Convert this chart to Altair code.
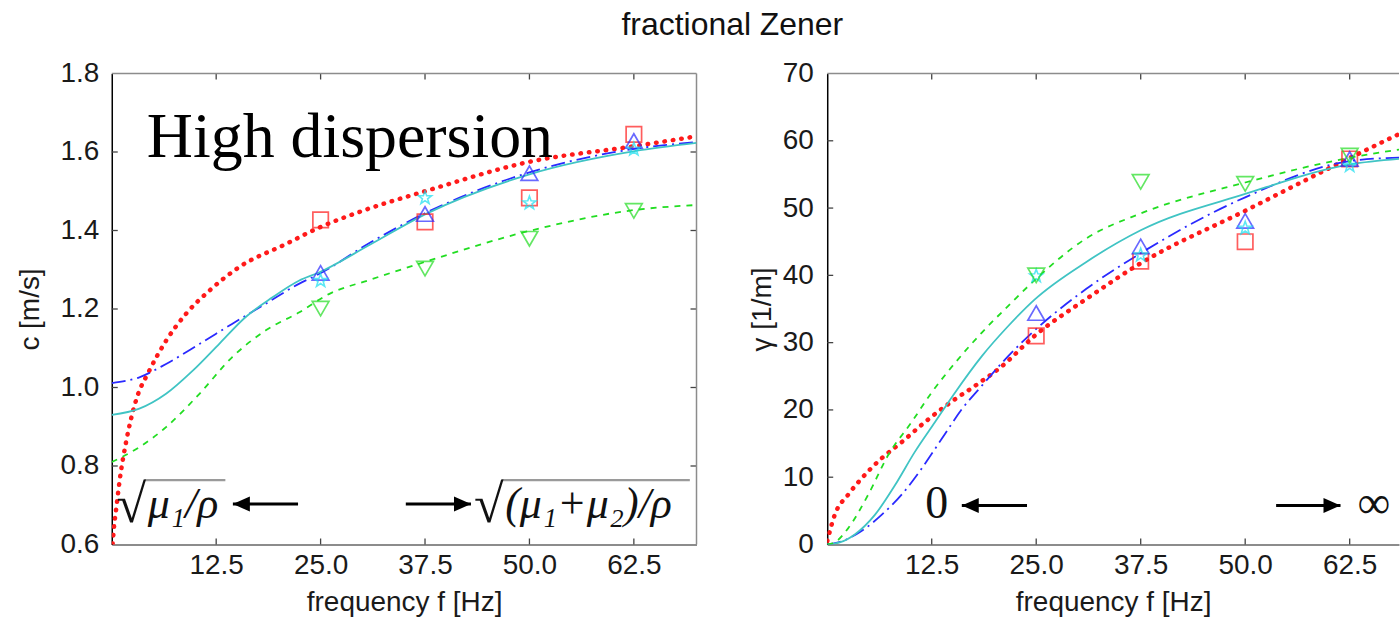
import altair as alt
import pandas as pd

# ---------------- data: left panel, phase velocity c [m/s] ----------------
MEAS_F = [25.0, 37.5, 50.0, 62.5]
L_SQ_RED = [1.427, 1.422, 1.483, 1.645]
L_TRI_BLUE = [1.292, 1.442, 1.546, 1.628]
L_STAR_CYAN = [1.272, 1.483, 1.470, 1.607]
L_TRI_GREEN = [1.201, 1.303, 1.379, 1.450]

L_RED_F = [0.0, 0.1, 0.25, 0.56, 0.95, 1.75, 2.9, 4.5, 6.5, 8.9, 11.7, 15.2, 20.8, 24.8, 30.0, 37.5, 50.0, 62.6, 70.0]
L_RED_C = [0.58, 0.60, 0.64, 0.696, 0.764, 0.865, 0.967, 1.043, 1.119, 1.188, 1.247, 1.306, 1.365, 1.407, 1.45, 1.50, 1.575, 1.615, 1.640]
L_CYAN_F = [0.0, 3.3, 6.5, 9.7, 12.9, 16.0, 19.2, 22.4, 24.8, 31.0, 37.5, 50.0, 62.6, 70.0]
L_CYAN_C = [0.930, 0.946, 0.984, 1.043, 1.112, 1.179, 1.229, 1.272, 1.293, 1.365, 1.441, 1.543, 1.602, 1.623]
L_BLUE_F = [0.0, 3.3, 6.5, 10.5, 14.4, 18.4, 22.4, 24.8, 31.0, 37.5, 50.0, 62.6, 70.0]
L_BLUE_C = [1.011, 1.026, 1.060, 1.111, 1.162, 1.213, 1.264, 1.289, 1.370, 1.444, 1.548, 1.608, 1.625]
L_GREEN_F = [0.0, 3.3, 6.5, 10.5, 14.4, 18.4, 22.4, 26.0, 31.0, 37.5, 50.0, 62.5, 70.0]
L_GREEN_C = [0.810, 0.848, 0.899, 0.984, 1.077, 1.145, 1.191, 1.238, 1.275, 1.320, 1.399, 1.452, 1.465]

# ---------------- data: right panel, attenuation gamma [1/m] ----------------
R_SQ_RED = [31.0, 42.1, 45.0, 57.3]
R_TRI_BLUE = [34.4, 44.3, 48.1, 57.3]
R_STAR_CYAN = [39.9, 43.0, 47.0, 56.3]
R_TRI_GREEN = [40.0, 53.9, 53.6, 57.8]

R_RED_F = [0.0, 0.9, 2.5, 4.1, 6.5, 8.9, 11.7, 14.5, 17.7, 20.9, 24.8, 31.0, 37.5, 50.0, 62.6, 68.4]
R_RED_G = [0.5, 4.4, 7.4, 9.8, 12.8, 15.2, 18.2, 20.9, 23.6, 26.5, 31.0, 36.5, 41.8, 49.6, 57.5, 61.0]
R_GREEN_F = [0.0, 1.0, 2.5, 4.9, 7.3, 10.1, 12.5, 15.3, 18.5, 21.6, 24.4, 31.0, 37.5, 50.0, 62.6, 68.4]
R_GREEN_G = [0.0, 0.4, 2.4, 7.4, 13.3, 18.2, 22.6, 27.0, 31.5, 35.4, 38.8, 45.5, 49.2, 53.8, 57.5, 58.7]
R_CYAN_F = [0.0, 1.5, 3.3, 5.7, 8.1, 10.5, 12.9, 15.3, 18.5, 21.6, 24.8, 31.0, 37.5, 50.0, 62.6, 68.4]
R_CYAN_G = [0.0, 0.3, 1.5, 4.4, 8.8, 13.8, 18.2, 22.6, 28.0, 32.4, 36.4, 42.0, 46.7, 52.1, 56.5, 57.3]
R_BLUE_F = [0.0, 2.0, 4.1, 6.5, 8.9, 11.3, 13.7, 16.1, 18.5, 20.9, 24.1, 31.0, 37.5, 50.0, 62.6, 68.4]
R_BLUE_G = [0.0, 0.6, 2.0, 4.4, 7.4, 11.3, 15.7, 20.1, 23.6, 27.0, 31.0, 38.0, 43.3, 51.6, 57.0, 57.5]

# ---------------- axes ----------------
X_TICKS = [12.5, 25.0, 37.5, 50.0, 62.5]
L_Y_TICKS = [0.6, 0.8, 1.0, 1.2, 1.4, 1.6, 1.8]
R_Y_TICKS = [0, 10, 20, 30, 40, 50, 60, 70]
L_X_DOMAIN = [0, 70]
R_X_DOMAIN = [0, 68.4]
L_Y_DOMAIN = [0.6, 1.8]
R_Y_DOMAIN = [0, 70]

# ---------------- annotations (data coordinates) ----------------
L_HEAD = ("High dispersion", 4.2, 1.587)
L_RAD1 = ("√", 4.1, 0.658)
L_EXPR1 = ("μ₁/ρ", 4.3, 0.668)
L_BAR1 = (3.9, 13.6, 0.764)
L_RAD2 = ("√", 46.9, 0.658)
L_EXPR2 = ("(μ₁+μ₂)/ρ", 47.1, 0.668)
L_BAR2 = (46.7, 69.2, 0.764)
L_ARROW_L = (14.5, 22.3, 0.703)   # tip, tail, level
L_ARROW_R = (43.0, 35.2, 0.703)
R_ZERO = ("0", 13.1, 3.9)
R_INF = ("∞", 65.4, 3.9)
R_ARROW_L = (16.1, 23.9, 5.8)
R_ARROW_R = (61.4, 53.7, 5.8)

SANS = "Liberation Sans"
SERIF = "Liberation Serif"
W1, W2, H = 586, 573, 472
TICKC = "#444444"
BORDC = "#8c8c8c"
TXT = "#1a1a1a"

ARROW_LEFT = "M0,0 L1.7,-0.75 L1.7,0.75 Z"
ARROW_RIGHT = "M0,0 L-1.7,-0.75 L-1.7,0.75 Z"


def make_panel(W, xdom, ydom, yticks, yfmt, ytitle, ylabpad, ytitlepad,
               curves, markers, annots, right_border):
    xs = alt.Scale(domain=xdom, nice=False, zero=False)
    ys = alt.Scale(domain=ydom, nice=False, zero=False)
    xax = alt.Axis(values=X_TICKS, format=".1f", ticks=False, grid=False,
                   domainColor="#666666", domainWidth=1.5,
                   labelFont=SANS, labelFontSize=28, labelColor=TXT, labelPadding=7,
                   title="frequency f [Hz]", titleFont=SANS, titleFontSize=28,
                   titleFontWeight="normal", titleColor=TXT, titlePadding=9)
    yax = alt.Axis(values=yticks, format=yfmt, ticks=False, grid=False,
                   domainColor="#000000", domainWidth=1.5,
                   labelFont=SANS, labelFontSize=28, labelColor=TXT, labelPadding=ylabpad,
                   title=ytitle, titleFont=SANS, titleFontSize=28,
                   titleFontWeight="normal", titleColor=TXT, titlePadding=ytitlepad)

    def X(field="f"):
        return alt.X(f"{field}:Q", scale=xs, axis=xax)

    def Y(field="v"):
        return alt.Y(f"{field}:Q", scale=ys, axis=yax)

    layers = []
    # inward ticks (these layers also carry the axes)
    xt = alt.Chart(pd.DataFrame({"f": X_TICKS}))
    layers.append(xt.mark_rule(color=TICKC, strokeWidth=1.3).encode(
        x=X(), y=alt.value(H), y2=alt.value(H - 6)))
    layers.append(xt.mark_rule(color=TICKC, strokeWidth=1.3).encode(
        x=X(), y=alt.value(0), y2=alt.value(6)))
    yt = alt.Chart(pd.DataFrame({"v": yticks[1:-1]}))
    layers.append(yt.mark_rule(color=TICKC, strokeWidth=1.3).encode(
        y=Y(), x=alt.value(0), x2=alt.value(6)))
    if right_border:
        layers.append(yt.mark_rule(color=TICKC, strokeWidth=1.3).encode(
            y=Y(), x=alt.value(W), x2=alt.value(W - 6)))

    # frame lines (top and optional right)
    frame = alt.Chart(pd.DataFrame({"k": [0]}))
    layers.append(frame.mark_rule(color=BORDC, strokeWidth=1.5).encode(
        x=alt.value(0), x2=alt.value(W), y=alt.value(0)))
    if right_border:
        layers.append(frame.mark_rule(color=BORDC, strokeWidth=1.5).encode(
            x=alt.value(W), y=alt.value(0), y2=alt.value(H)))

    # curves
    for f, v, style in curves:
        df = pd.DataFrame({"f": f, "v": v})
        layers.append(alt.Chart(df).mark_line(interpolate="monotone", clip=True, **style).encode(
            x=X(), y=Y()))

    # measured markers
    for v, style in markers:
        df = pd.DataFrame({"f": MEAS_F, "v": v})
        layers.append(alt.Chart(df).mark_point(clip=True, **style).encode(x=X(), y=Y()))

    # annotations
    for kind, spec, style in annots:
        if kind == "text":
            t, f, v = spec
            df = pd.DataFrame({"f": [f], "v": [v], "t": [t]})
            layers.append(alt.Chart(df).mark_text(**style).encode(x=X(), y=Y(), text="t:N"))
        elif kind == "bar":
            f1, f2, v = spec
            df = pd.DataFrame({"f": [f1], "f2": [f2], "v": [v]})
            layers.append(alt.Chart(df).mark_rule(clip=True, **style).encode(x=X(), x2="f2:Q", y=Y()))
        elif kind == "arrow":
            tip, tail, v = spec
            df = pd.DataFrame({"f": [tip], "f2": [tail], "v": [v]})
            layers.append(alt.Chart(df).mark_rule(color="black", strokeWidth=3).encode(
                x=X(), x2="f2:Q", y=Y()))
            shape = ARROW_LEFT if tip < tail else ARROW_RIGHT
            layers.append(alt.Chart(df).mark_point(shape=shape, filled=True, color="black",
                                                   opacity=1, size=400).encode(x=X(), y=Y()))

    return alt.layer(*layers).properties(width=W, height=H)


RED = "#ff1a1a"
BLUE = "#2a2aff"
GREEN = "#22dd22"
CYANL = "#40c4c4"
CYANM = "#18dff0"

red_style = dict(color=RED, strokeWidth=4.5, strokeDash=[0.5, 8], strokeCap="round")
blue_style = dict(color=BLUE, strokeWidth=1.8, strokeDash=[14, 5, 2, 5])
green_style = dict(color=GREEN, strokeWidth=1.8, strokeDash=[6, 6])
cyan_style = dict(color=CYANL, strokeWidth=1.8)

STAR = ("M0,-1 L0.24,-0.33 L0.95,-0.31 L0.38,0.12 L0.59,0.81 L0,0.4 "
        "L-0.59,0.81 L-0.38,0.12 L-0.95,-0.31 L-0.24,-0.33 Z")
mk_red = dict(shape="square", size=240, color=RED, strokeWidth=1.7, filled=False)
mk_blue = dict(shape="triangle-up", size=280, color=BLUE, strokeWidth=1.7, filled=False)
mk_cyan = dict(shape=STAR, size=190, color=CYANM, strokeWidth=1.6, filled=False)
mk_green = dict(shape="triangle-down", size=280, color=GREEN, strokeWidth=1.7, filled=False)

serif_big = dict(font=SERIF, fontSize=64, align="left", baseline="alphabetic", color="black")
rad_style = dict(font=SERIF, fontSize=54, align="right", baseline="alphabetic", color="#111111")
expr_style = dict(font=SERIF, fontSize=44, fontStyle="italic", align="left", baseline="alphabetic", color="#111111")
bar_style = dict(color="#9a9a9a", strokeWidth=2.5)
sym_style = dict(font=SERIF, fontSize=46, align="center", baseline="alphabetic", color="#111111")

left = make_panel(
    W1, L_X_DOMAIN, L_Y_DOMAIN, L_Y_TICKS, ".1f", "c [m/s]", 13, 15,
    [(L_RED_F, L_RED_C, red_style), (L_BLUE_F, L_BLUE_C, blue_style),
     (L_CYAN_F, L_CYAN_C, cyan_style), (L_GREEN_F, L_GREEN_C, green_style)],
    [(L_SQ_RED, mk_red), (L_TRI_BLUE, mk_blue), (L_STAR_CYAN, mk_cyan), (L_TRI_GREEN, mk_green)],
    [("text", L_HEAD, serif_big),
     ("bar", L_BAR1, bar_style), ("text", L_RAD1, rad_style), ("text", L_EXPR1, expr_style),
     ("bar", L_BAR2, bar_style), ("text", L_RAD2, rad_style), ("text", L_EXPR2, expr_style),
     ("arrow", L_ARROW_L, None), ("arrow", L_ARROW_R, None)],
    right_border=True,
)

right = make_panel(
    W2, R_X_DOMAIN, R_Y_DOMAIN, R_Y_TICKS, "d", "γ  [1/m]", 14, 6,
    [(R_RED_F, R_RED_G, red_style), (R_BLUE_F, R_BLUE_G, blue_style),
     (R_CYAN_F, R_CYAN_G, cyan_style), (R_GREEN_F, R_GREEN_G, green_style)],
    [(R_SQ_RED, mk_red), (R_TRI_BLUE, mk_blue), (R_STAR_CYAN, mk_cyan), (R_TRI_GREEN, mk_green)],
    [("text", R_ZERO, sym_style), ("text", R_INF, sym_style),
     ("arrow", R_ARROW_L, None), ("arrow", R_ARROW_R, None)],
    right_border=False,
)

chart = alt.hconcat(left, right, spacing=50).properties(
    title=alt.TitleParams("fractional Zener", font=SANS, fontSize=32, fontWeight="normal",
                          color="#111111", anchor="middle", offset=18, dx=24),
    padding={"left": 17, "top": 8, "right": 0, "bottom": 0},
    background="white",
).configure_view(stroke=None)

chart.save("out.html", embed_options={"renderer": "svg", "actions": False})
